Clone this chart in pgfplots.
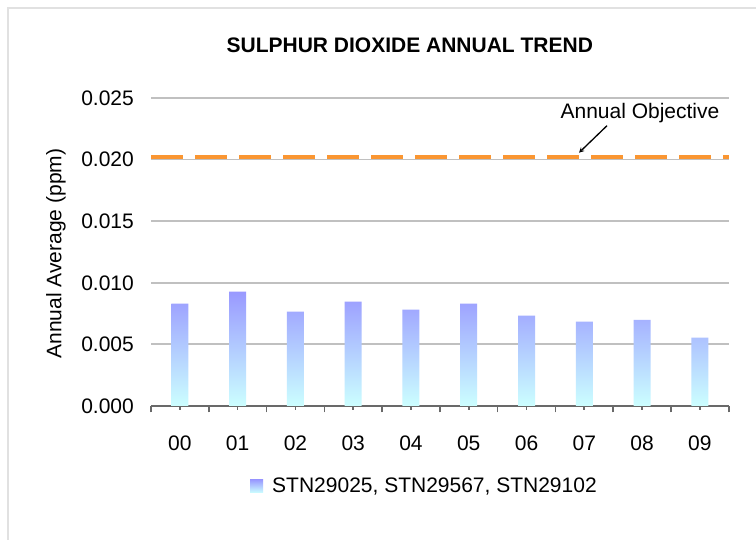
\documentclass[border=0pt]{standalone}
\usepackage{fontspec}
\setmainfont{Liberation Sans}
\usepackage{pgfplots}
\pgfplotsset{compat=1.18}
\definecolor{bartop}{RGB}{153,153,255}
\definecolor{barbot}{RGB}{204,255,255}
\definecolor{objorange}{RGB}{250,150,50}
\definecolor{gridgray}{RGB}{192,192,192}
\definecolor{axgray}{RGB}{105,105,105}
\definecolor{framegray}{RGB}{225,225,225}
\begin{document}
\begin{tikzpicture}[x=1bp,y=1bp]
\useasboundingbox (0,0) rectangle (756,540);
\fill[white] (0,0) rectangle (756,540);
\draw[framegray, line width=2bp] (8,0) -- (8,532) -- (756,532);
\begin{axis}[
  at={(151bp,134bp)}, anchor=south west,
  scale only axis, width=577.7bp, height=308bp,
  xmin=-0.5, xmax=9.5, ymin=0, ymax=0.025,
  font=\fontsize{21bp}{25bp}\selectfont,
  /pgf/number format/assume math mode=true,
  axis x line*=bottom, axis y line*=left,
  x axis line style={draw=axgray, line width=1.6bp, -},
  y axis line style={draw=none},
  xtick={0,...,9},
  xticklabels={00,01,02,03,04,05,06,07,08,09},
  xtick style={draw=axgray, line width=1.6bp},
  major tick length=8bp,
  xtick align=center,
  extra x ticks={-0.5,0.5,1.5,2.5,3.5,4.5,5.5,6.5,7.5,8.5,9.5},
  extra x tick labels={},
  extra x tick style={xtick align=outside, major tick length=6.5bp, grid=none},
  xticklabel style={anchor=base, yshift=-41bp, inner sep=0pt},
  ytick={0,0.005,0.010,0.015,0.020,0.025},
  ytick style={draw=none},
  scaled y ticks=false,
  yticklabel style={anchor=east, inner sep=0pt, xshift=-17bp,
    /pgf/number format/.cd, fixed, fixed zerofill, precision=3},
  ymajorgrids,
  grid style={draw=gridgray, line width=1.8bp},
  ylabel={Annual Average (ppm)},
  every axis y label/.style={at={(axis description cs:-0.1644,0.495)}, rotate=90, anchor=center},
  title={\bfseries SULPHUR DIOXIDE ANNUAL TREND},
  every axis title/.style={at={(axis description cs:0.448,1.1715)}, anchor=center},
  legend image code/.code={\fill[top color=bartop, bottom color=barbot] (0bp,-6.5bp) rectangle (13bp,6.5bp);},
  legend style={draw=none, fill=none, inner sep=0pt,
    nodes={inner sep=0pt},
    /tikz/every odd column/.append style={column sep=9bp},
    at={(axis description cs:0.1714,-0.2605)}, anchor=west,
    font=\fontsize{21bp}{25bp}\selectfont},
  legend cell align=left,
  clip=false,
]
\addplot[ybar, bar width=17bp, draw=none, top color=bartop, bottom color=barbot]
  coordinates {(0,0.00830) (1,0.00928) (2,0.00765) (3,0.00847) (4,0.00782)
               (5,0.00830) (6,0.00733) (7,0.00684) (8,0.00700) (9,0.00554)};
\addlegendentry{STN29025, STN29567, STN29102}
\addplot[forget plot, objorange, line width=4bp, dash pattern=on 32bp off 12bp]
  coordinates {(-0.5,0.0202) (9.5,0.0202)};
\node[anchor=center, inner sep=0pt] at (axis cs:7.964,0.02381) {Annual Objective};
\draw[-stealth, line width=1.3bp, black] (axis cs:7.393,0.02275) -- (axis cs:6.909,0.02056);
\end{axis}
\end{tikzpicture}
\end{document}
